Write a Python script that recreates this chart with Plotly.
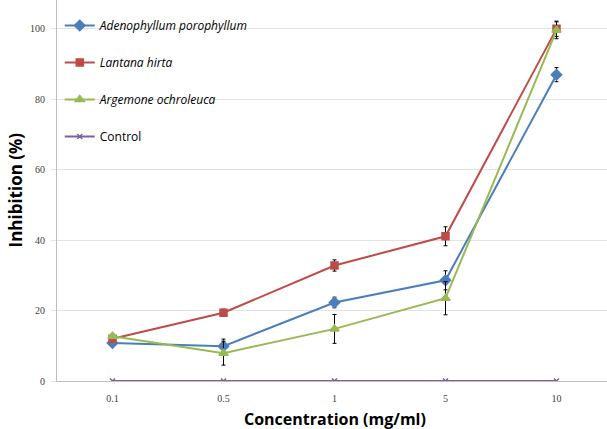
import plotly.graph_objects as go

concentrations = ["0.1", "0.5", "1", "5", "10"]

adeno = [10.8, 9.9, 22.3, 28.6, 87.0]
adeno_err = [0.6, 2.0, 1.5, 2.7, 2.0]

lantana = [12.0, 19.4, 32.8, 41.1, 100.0]
lantana_err = [0.5, 1.0, 1.6, 2.7, 2.2]

argemone = [12.7, 7.9, 14.8, 23.5, 99.6]
argemone_err = [0.6, 3.4, 4.1, 4.7, 2.4]

control = [0, 0, 0, 0, 0]

series = [
    ("<i>Adenophyllum porophyllum</i>", adeno, adeno_err, "#4A7EBB", "diamond", 8),
    ("<i>Lantana hirta</i>", lantana, lantana_err, "#BE4B48", "square", 7),
    ("<i>Argemone ochroleuca</i>", argemone, argemone_err, "#98B954", "triangle-up", 8),
    ("Control", control, None, "#7D60A0", "x-thin", 5),
]

fig = go.Figure()
for i, (name, vals, err, color, sym, size) in enumerate(series):
    kw = {}
    if err is not None:
        kw["error_y"] = dict(type="data", array=err, visible=True,
                             color="#000000", thickness=1, width=2)
    fig.add_trace(go.Scatter(
        x=concentrations, y=vals, name=name, mode="lines+markers",
        line=dict(color=color, width=2),
        marker=dict(symbol=sym, size=size, color=color,
                    line=dict(color=color, width=1.5)),
        legendgroup=f"g{i}",
        **kw))

fig.update_layout(
    width=607, height=429,
    margin=dict(l=57, r=0, t=0, b=48),
    paper_bgcolor="white", plot_bgcolor="white",
    font=dict(family="Open Sans", color="#000000"),
    showlegend=True,
    legend=dict(x=0.005, y=1 - 11 / 381, xanchor="left", yanchor="top",
                bgcolor="rgba(0,0,0,0)", font=dict(size=12, family="Open Sans"),
                traceorder="grouped", tracegroupgap=18, itemwidth=30),
    xaxis=dict(type="category", range=[-0.5, 4.455], showgrid=False,
               showline=True, linecolor="#BFBFBF", linewidth=1,
               ticks="", ticklabelstandoff=8,
               tickfont=dict(size=10, family="Liberation Serif", color="#404040")),
    yaxis=dict(range=[0, 108.2], tickvals=[0, 20, 40, 60, 80, 100],
               showgrid=True, gridcolor="#E3E3E3", gridwidth=1,
               showline=True, linecolor="#BFBFBF", linewidth=1,
               ticks="outside", ticklen=5, tickcolor="#E3E3E3",
               ticklabelstandoff=4, zeroline=False,
               tickfont=dict(size=10, family="Liberation Serif", color="#404040")),
    annotations=[
        dict(text="<b>Concentration (mg/ml)</b>", xref="x", yref="paper",
             x=2, y=0, xanchor="center", yanchor="top", yshift=-25,
             showarrow=False, font=dict(size=16, family="Open Sans")),
        dict(text="<b>Inhibition (%)</b>", xref="paper", yref="paper",
             x=0, y=0.5, xanchor="center", yanchor="middle", xshift=-42,
             textangle=-90, showarrow=False, font=dict(size=17, family="Open Sans")),
    ],
)

fig.write_html("out.html",
               config={"displayModeBar": False},
               post_script="document.body.style.margin='0';document.body.style.overflow='hidden';")
